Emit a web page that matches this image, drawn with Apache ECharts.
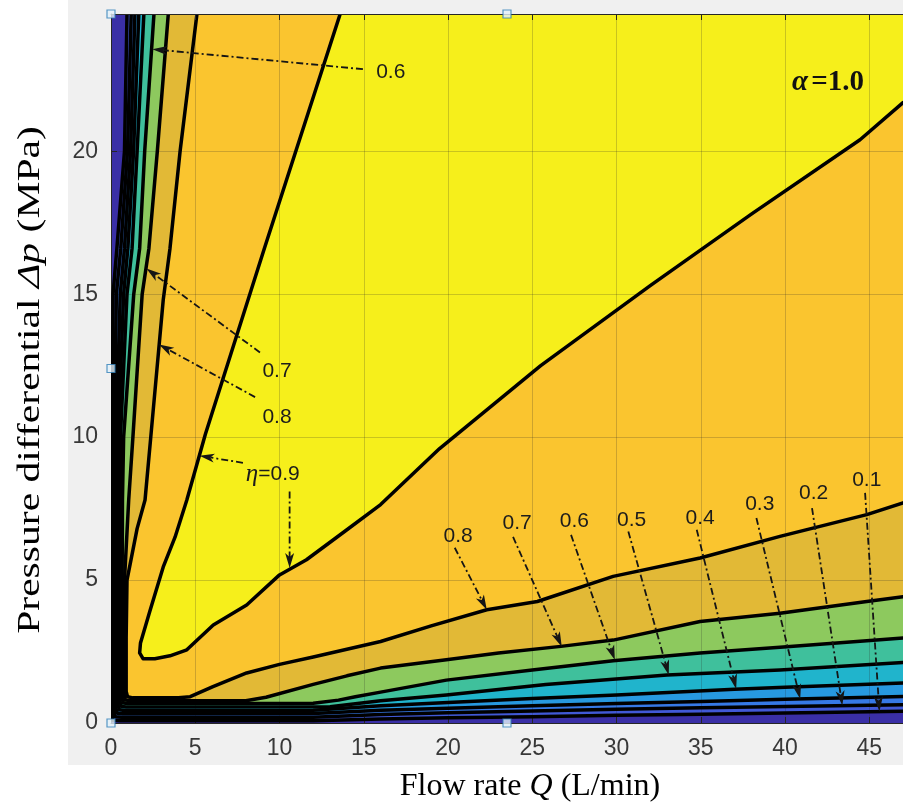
<!DOCTYPE html>
<html>
<head>
<meta charset="utf-8">
<script src="https://cdn.jsdelivr.net/npm/echarts@6/dist/echarts.min.js"></script>
<style>
  html, body { margin: 0; padding: 0; background: #ffffff; }
  #c { width: 903px; height: 803px; }
</style>
</head>
<body>
<div id="c"></div>
<script>
// Axis extents and tick values
const Q_MAX = 47;
const DP_MAX = 24.8;
const qTicks = [0, 5, 10, 15, 20, 25, 30, 35, 40, 45];
const dpTicks = [0, 5, 10, 15, 20];

// Efficiency contour levels and band colours (below 0.1 ... above 0.9)
const levels = [0.1, 0.2, 0.3, 0.4, 0.5, 0.6, 0.7, 0.8, 0.9];
const bandColors = ['#3a2fa6', '#4159d6', '#3679e6', '#2799e0', '#20b4cc', '#3fc09c',
                    '#8dc95e', '#e2b936', '#fac52f', '#f6ef1b'];

// Contour lines [Q (L/min), Δp (MPa)], each running from the top edge to the right edge
const eta10 = [[0.95,24.8],[0.8,20],[0.35,16.6],[0.12,15],[0.07,10],[0.06,5],[0.06,0.3],[0.1,0.1],[0.5,0.08],[12,0.08],[16,0.14],[20,0.18],[25,0.22],[30,0.27],[35,0.31],[40,0.35],[47,0.41]];
const eta20 = [[1.2,24.8],[0.98,20],[0.58,16.6],[0.32,15],[0.18,10],[0.18,5],[0.18,0.4],[0.25,0.22],[0.6,0.2],[12,0.2],[16,0.3],[20,0.36],[25,0.42],[30,0.48],[35,0.53],[40,0.58],[47,0.64]];
const eta30 = [[1.42,24.8],[1.16,20],[0.8,16.6],[0.55,15],[0.3,10],[0.3,5],[0.3,0.5],[0.38,0.34],[0.7,0.32],[12,0.33],[16,0.45],[20,0.52],[25,0.6],[30,0.68],[35,0.75],[40,0.83],[47,0.93]];
const eta40 = [[1.65,24.8],[1.34,20],[1.0,16.6],[0.75,15],[0.42,10],[0.42,5],[0.42,0.62],[0.5,0.46],[0.8,0.44],[12,0.45],[16,0.6],[20,0.72],[25,0.86],[30,0.98],[37,1.18],[40,1.25],[47,1.4]];
const eta50 = [[1.95,24.8],[1.55,20],[1.25,16.6],[0.95,15],[0.56,10],[0.54,5],[0.54,0.74],[0.62,0.58],[0.9,0.56],[13,0.57],[16,0.78],[19.9,0.98],[25.8,1.35],[33,1.68],[39.7,1.85],[47,2.12]];
const eta60 = [[2.55,24.8],[2.0,20],[1.7,16.6],[1.35,15],[0.75,10],[0.68,7.8],[0.66,5],[0.66,0.86],[0.74,0.7],[1,0.68],[12,0.69],[13.5,0.8],[14.5,0.92],[16,1.08],[19.9,1.5],[25,1.85],[29.8,2.18],[34.96,2.45],[39.7,2.65],[44.85,2.88],[47,2.97]];
const eta70 = [[3.4,24.8],[2.75,20],[2.25,16.6],[1.85,15],[1.3,10],[1.05,7.8],[0.8,5],[0.78,2],[0.78,0.98],[0.86,0.8],[1.2,0.78],[8,0.78],[9.2,0.9],[12,1.35],[14,1.65],[16,1.92],[19.9,2.21],[23,2.45],[26.7,2.68],[29.8,2.9],[34.96,3.55],[39.7,3.84],[44.85,4.25],[47,4.42]];
const eta80 = [[5.1,24.8],[4.1,20],[3.5,16.6],[3.1,14.8],[2.36,10],[2.02,7.8],[1.55,6.8],[0.95,5.0],[0.9,3.0],[0.9,1.1],[0.98,0.92],[1.3,0.88],[4.0,0.88],[4.7,0.92],[6.05,1.27],[8.05,1.75],[10,2.05],[12,2.31],[14,2.58],[16,2.85],[19,3.4],[22.3,3.96],[25.3,4.25],[29.8,5.13],[34.96,5.77],[39.7,6.53],[44.85,7.29],[47,7.7]];
const eta90 = [[13.6,24.8],[9.1,16.6],[5.6,10.1],[4.5,7.8],[3.8,6.5],[3.1,5.46],[2.3,3.9],[1.75,2.8],[1.7,2.45],[1.9,2.25],[2.6,2.25],[3.5,2.35],[4.5,2.56],[6.07,3.43],[8.05,4.13],[10.0,5.18],[11.6,5.71],[14.0,6.76],[16.0,7.64],[19.5,9.6],[25.5,12.5],[32.0,15.3],[38.0,17.8],[44.45,20.4],[47,21.7]];
const contours = [eta10, eta20, eta30, eta40, eta50, eta60, eta70, eta80, eta90];

// Level annotations: text, text centre, arrow tail, arrow tip
const labelText = ['0.6', '0.7', '0.8', '{e|η}=0.9', '0.8', '0.7', '0.6', '0.5', '0.4', '0.3', '0.2', '0.1'];
const labelPos = [[16.6,22.75],[9.85,12.3],[9.85,10.7],[9.6,8.7],[20.6,6.53],[24.1,7.0],[27.5,7.05],[30.9,7.11],[34.96,7.17],[38.5,7.64],[41.7,8.05],[44.85,8.5]];
const arrowTail = [[14.95,22.87],[8.84,12.96],[8.55,11.4],[7.83,9.1],[10.6,8.1],[20.4,6.13],[23.86,6.51],[27.3,6.58],[30.7,6.7],[34.76,6.76],[38.3,7.17],[41.6,7.52],[44.75,8.05]];
const arrowTip = [[2.45,23.57],[2.1,15.9],[2.85,13.24],[5.25,9.35],[10.6,5.42],[22.3,3.96],[26.75,2.67],[29.9,2.2],[33.1,1.68],[37.1,1.19],[40.9,0.84],[43.4,0.61],[45.6,0.4]];

const alphaText = '{a|α} {b|=1.0}';
const alphaPos = [42.55, 22.4];

// Axis titles
const xTitle = '{t|Flow rate }{i|Q}{t| (L/min)}';
const yTitle = '{t|Pressure differential }{i|Δp}{t| (MPa)}';

// Selection handles on the axes box
const handlePts = [[0, DP_MAX], [Q_MAX / 2, DP_MAX], [0, DP_MAX / 2], [0, 0], [Q_MAX / 2, 0]];

const plotFrame = [[0, 0], [Q_MAX, 0], [Q_MAX, DP_MAX], [0, DP_MAX]];

function arrowParts(api, tail, tip) {
  const a = api.coord(tail), b = api.coord(tip);
  const dx = b[0] - a[0], dy = b[1] - a[1];
  const len = Math.hypot(dx, dy);
  const ux = dx / len, uy = dy / len, nx = -uy, ny = ux;
  const L = 15, W = 4.5, N = 4;
  const bx = b[0] - ux * L, by = b[1] - uy * L;
  const nxp = b[0] - ux * (L - N), nyp = b[1] - uy * (L - N);
  return [
    { type: 'line', shape: { x1: a[0], y1: a[1], x2: nxp, y2: nyp },
      style: { stroke: '#151515', lineWidth: 1.8, lineDash: [7, 3, 2, 3] } },
    { type: 'polygon', shape: { points: [b, [bx + nx * W, by + ny * W], [nxp, nyp], [bx - nx * W, by - ny * W]] },
      style: { fill: '#151515' } }
  ];
}

const serif = '"Liberation Serif", "Times New Roman", serif';
const sans = '"Liberation Sans", Arial, Helvetica, sans-serif';
const titleRich = {
  t: { fontFamily: serif, fontSize: 32, fill: '#000' },
  i: { fontFamily: serif, fontStyle: 'italic', fontSize: 32, fill: '#000' }
};

const chart = echarts.init(document.getElementById('c'), null, { renderer: 'canvas', width: 903, height: 803 });

const option = {
  animation: false,
  backgroundColor: '#ffffff',
  graphic: [
    { type: 'rect', z: -10, silent: true,
      shape: { x: 68, y: 0, width: 835, height: 765 },
      style: { fill: '#f0f0f0' } },
    { type: 'text', z: 10, silent: true, x: 530, y: 787,
      style: { text: xTitle, align: 'center', verticalAlign: 'middle', rich: titleRich } },
    { type: 'text', z: 10, silent: true, x: 31, y: 380, rotation: Math.PI / 2, scaleX: 1.3,
      style: { text: yTitle, align: 'center', verticalAlign: 'middle', rich: titleRich } }
  ],
  grid: { left: 111, right: 0, top: 14, bottom: 80, containLabel: false },
  xAxis: [{
    type: 'value', min: 0, max: Q_MAX, interval: 5, position: 'bottom', z: 2,
    axisLine: { show: true, lineStyle: { color: '#262626', width: 1 } },
    axisTick: { show: true, inside: true, length: 6, lineStyle: { color: '#262626' } },
    axisLabel: { fontSize: 23, fontFamily: sans, color: '#383838', margin: 14, showMaxLabel: false,
      formatter: v => (qTicks.includes(v) ? String(v) : '') },
    splitLine: { show: true, lineStyle: { color: 'rgba(40,40,40,0.22)', width: 1 } }
  }, {
    type: 'value', min: 0, max: Q_MAX, interval: 5, position: 'top', z: 3,
    axisLine: { show: true, lineStyle: { color: '#262626', width: 1 } },
    axisTick: { show: true, inside: true, length: 6, lineStyle: { color: '#262626' } },
    axisLabel: { show: false }, splitLine: { show: false }
  }],
  yAxis: [{
    type: 'value', min: 0, max: DP_MAX, interval: 5, z: 2,
    axisLine: { show: true, lineStyle: { color: '#262626', width: 1 } },
    axisTick: { show: true, inside: true, length: 6, lineStyle: { color: '#262626' } },
    axisLabel: { fontSize: 23, fontFamily: sans, color: '#383838', margin: 13, showMaxLabel: false,
      formatter: v => (dpTicks.includes(v) ? String(v) : '') },
    splitLine: { show: true, lineStyle: { color: 'rgba(40,40,40,0.22)', width: 1 } }
  }],
  series: [
    {
      // filled bands: whole frame first, then each region above a level
      type: 'custom', name: 'bands', z: 1, silent: true, clip: true,
      data: bandColors.map((_, i) => [i]),
      renderItem: (params, api) => {
        const i = params.dataIndex;
        const pts = i === 0 ? plotFrame : contours[i - 1].concat([[Q_MAX, DP_MAX]]);
        return { type: 'polygon', shape: { points: pts.map(p => api.coord(p)) },
                 style: { fill: bandColors[i] } };
      }
    },
    {
      type: 'custom', name: 'contours', z: 3, silent: true, clip: true,
      data: levels.map((_, i) => [i]),
      renderItem: (params, api) => ({
        type: 'polyline',
        shape: { points: contours[params.dataIndex].map(p => api.coord(p)) },
        style: { stroke: '#000', lineWidth: 3.5, fill: null, lineJoin: 'round', lineCap: 'round' }
      })
    },
    {
      type: 'custom', name: 'arrows', z: 4, silent: true, clip: false,
      data: arrowTail.map((_, i) => [i]),
      renderItem: (params, api) => ({
        type: 'group', children: arrowParts(api, arrowTail[params.dataIndex], arrowTip[params.dataIndex])
      })
    },
    {
      type: 'custom', name: 'labels', z: 5, silent: true, clip: false,
      data: labelText.map((_, i) => [i]),
      renderItem: (params, api) => {
        const p = api.coord(labelPos[params.dataIndex]);
        return { type: 'text', x: p[0], y: p[1],
          style: { text: labelText[params.dataIndex], fontSize: 21, fontFamily: sans, fill: '#1c1c1c',
                   align: 'center', verticalAlign: 'middle',
                   rich: { e: { fontFamily: serif, fontStyle: 'italic', fontSize: 25, fill: '#1c1c1c' } } } };
      }
    },
    {
      type: 'custom', name: 'alpha', z: 5, silent: true, clip: false,
      data: [[0]],
      renderItem: (params, api) => {
        const p = api.coord(alphaPos);
        return { type: 'text', x: p[0], y: p[1],
          style: { text: alphaText, align: 'center', verticalAlign: 'middle',
                   rich: {
                     a: { fontFamily: serif, fontStyle: 'italic', fontWeight: 'bold', fontSize: 29, fill: '#111' },
                     b: { fontFamily: serif, fontWeight: 'bold', fontSize: 29, fill: '#111' } } } };
      }
    },
    {
      type: 'scatter', name: 'handles', z: 6, silent: true, clip: false,
      symbol: 'rect', symbolSize: 8,
      itemStyle: { color: '#e4f1fa', borderColor: '#2f80b8', borderWidth: 1.2 },
      data: handlePts
    }
  ]
};

chart.setOption(option);
</script>
</body>
</html>
